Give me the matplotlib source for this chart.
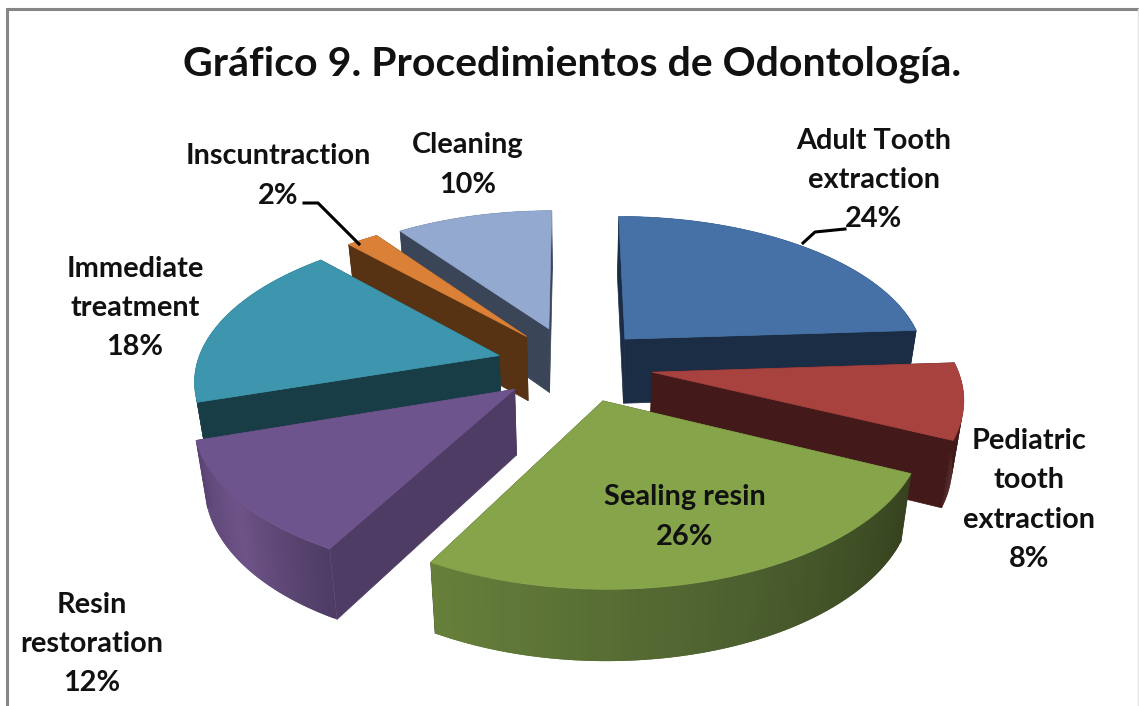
import numpy as np
import matplotlib
matplotlib.use("Agg")
import matplotlib.pyplot as plt
from matplotlib.patches import Polygon

# pie data, clockwise from 12 o'clock
categories = ["Adult Tooth\nextraction", "Pediatric\ntooth\nextraction", "Sealing resin",
              "Resin\nrestoration", "Immediate\ntreatment", "Inscuntraction", "Cleaning"]
values = [24, 8, 26, 12, 18, 2, 10]
explode = [0.24, 0.25, 0.24, 0.245, 0.253, 0.25, 0.26]
radius = [0.97, 0.975, 0.98, 0.99, 0.97, 0.97, 0.95]
nudge_x = [0, 0, 4, 0, 0, 0, -2]
top_colors = ["#4571A6", "#A8423F", "#86A44A", "#6E548D", "#3D96AE", "#DA8137", "#93A9CF"]
side_colors = ["#1B2D45", "#431A19", "#36421E", "#4E3C64", "#183D47", "#573213", "#3B4558"]
outer_left = ["#1B2D45", "#431A19", "#66803A", "#5A4474", "#183D47", "#573213", "#3B4558"]
outer_mid = ["#1B2D45", "#431A19", "#4E6230", "#6E5388", "#183D47", "#573213", "#3B4558"]
draw_order = [6, 5, 0, 4, 1, 3, 2]

label_xy = [(874, 180), (1029, 500), (685, 517), (92, 644), (135, 308), (278, 176), (468, 165)]
title = "Gráfico 9. Procedimientos de Odontología."

CX, CY = 575, 365
RX, RY = 312, 152
PERSP = 0.15
HEIGHT = 65
CONVERGE = 0.03


def project(x, y, z=0.0, dx=0):
    """ ground plane to screen, y goes towards the viewer, z goes down """
    s = 1.0 / (1.0 - PERSP * y)
    return CX + dx + RX * x * s * (1 - CONVERGE * z), CY + RY * y * s + HEIGHT * z * s ** 0.5


def blend(c1, c2, t):
    c1, c2 = np.array(matplotlib.colors.to_rgb(c1)), np.array(matplotlib.colors.to_rgb(c2))
    return tuple(c1 + (c2 - c1) * t)


fig = plt.figure(figsize=(11.39, 7.06), dpi=100)
ax = fig.add_axes([0, 0, 1, 1])
ax.set_xlim(0, 1139)
ax.set_ylim(706, 0)
ax.axis("off")

# frame of the pasted chart
ax.plot([7, 7, 1139], [706, 9, 9], color="#868686", lw=2.2, solid_joinstyle="miter", zorder=1)
ax.plot([1138, 1138], [9, 706], color="#E4E4E4", lw=1, zorder=1)

edges = np.cumsum([0] + values) / sum(values) * 2 * np.pi

z = 2
for i in draw_order:
    a0, a1 = edges[i], edges[i + 1]
    mid = (a0 + a1) / 2
    r = radius[i]
    dx = nudge_x[i]
    ox, oy = explode[i] * np.sin(mid), -explode[i] * np.cos(mid)
    t = np.linspace(a0, a1, 80)
    gx = ox + r * np.sin(t)
    gy = oy - r * np.cos(t)

    apex = project(ox, oy, 0, dx)
    apex_low = project(ox, oy, 1, dx)
    # flat sides
    for a in (a0, a1):
        px, py = ox + r * np.sin(a), oy - r * np.cos(a)
        quad = [apex, project(px, py, 0, dx), project(px, py, 1, dx), apex_low]
        ax.add_patch(Polygon(quad, fc=side_colors[i], ec=side_colors[i], lw=0.5, zorder=z))
        z += 1
    # curved outer side, small strips for the shading, each one overlaps the next
    for k in range(len(t) - 1):
        f = k / (len(t) - 2)
        if f < 0.5:
            col = blend(side_colors[i], outer_mid[i], f * 2)
        else:
            col = blend(outer_mid[i], outer_left[i], (f - 0.5) * 2)
        n = min(k + 2, len(t) - 1)
        quad = [project(gx[k], gy[k], 0, dx), project(gx[n], gy[n], 0, dx),
                project(gx[n], gy[n], 1, dx), project(gx[k], gy[k], 1, dx)]
        ax.add_patch(Polygon(quad, fc=col, ec="none", zorder=z))
    z += 1
    top = [apex] + [project(a, b, 0, dx) for a, b in zip(gx, gy)]
    ax.add_patch(Polygon(top, fc=top_colors[i], ec=top_colors[i], lw=0.5, zorder=z))
    z += 1

# labels
for i in range(len(values)):
    ax.text(label_xy[i][0], label_xy[i][1], "{}\n{}%".format(categories[i], values[i]),
            family="Lato", weight="bold", fontsize=20.8, color="#111111", ha="center", va="center",
            linespacing=1.62, zorder=100)

# leader lines
ax.plot([803, 815, 845], [243, 232, 229], color="black", lw=2.2, zorder=100)
ax.plot([359, 318, 304], [244, 203, 203], color="black", lw=2.2, zorder=100)

ax.text(572, 64, title, family="Lato", weight="bold", fontsize=29.5, color="#111111",
        ha="center", va="center", zorder=100)

fig.savefig("out.png", dpi=100)
